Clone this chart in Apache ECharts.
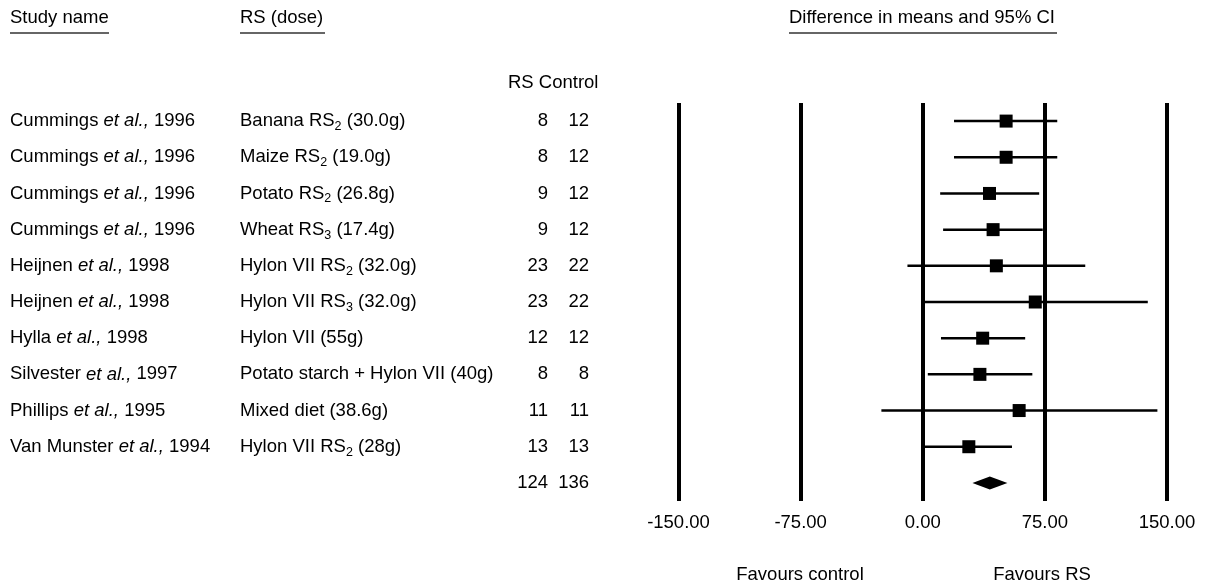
<!DOCTYPE html>
<html>
<head>
<meta charset="utf-8">
<script src="https://cdn.jsdelivr.net/npm/echarts@6/dist/echarts.min.js"></script>
<style>
  html, body { margin: 0; padding: 0; background: #fff; }
  #chart { width: 1205px; height: 585px; }
</style>
</head>
<body>
<div id="chart"></div>
<script>
// study rows
var authors = ['Cummings', 'Cummings', 'Cummings', 'Cummings', 'Heijnen', 'Heijnen', 'Hylla', 'Silvester', 'Phillips', 'Van Munster'];
var years = [1996, 1996, 1996, 1996, 1998, 1998, 1998, 1997, 1995, 1994];
var doseBase = ['Banana RS', 'Maize RS', 'Potato RS', 'Wheat RS', 'Hylon VII RS', 'Hylon VII RS', 'Hylon VII', 'Potato starch + Hylon VII', 'Mixed diet', 'Hylon VII RS'];
var doseSub = ['2', '2', '2', '3', '2', '3', '', '', '', '2'];
var doseAmount = ['30.0g', '19.0g', '26.8g', '17.4g', '32.0g', '32.0g', '55g', '40g', '38.6g', '28g'];
var nRS = [8, 8, 9, 9, 23, 23, 12, 8, 11, 13];
var nControl = [12, 12, 12, 12, 22, 22, 12, 8, 11, 13];
var totalRS = 124;
var totalControl = 136;

// difference in means and 95% CI
var means = [51.2, 51.2, 41.0, 43.2, 45.2, 69.1, 36.8, 35.1, 59.2, 28.3];
var lower = [19.2, 19.2, 10.7, 12.5, -9.4, 1.3, 11.2, 3.1, -25.4, 1.3];
var upper = [82.6, 82.6, 71.5, 73.7, 99.8, 138.2, 62.9, 67.3, 144.1, 54.8];
var pooled = [41.2, 30.5, 52.0]; // mean, lower, upper

var rowIds = authors.map(function (_, i) { return String(i); }).concat(['total']);

var FONT = 'Liberation Sans, Arial, sans-serif';
var FS = 18.5;
var textBase = { color: '#000', fontFamily: FONT, fontSize: FS };

function labelAxis(margin, align, formatter, rich) {
  return {
    type: 'category',
    data: rowIds,
    inverse: true,
    position: 'left',
    axisLine: { show: false },
    axisTick: { show: false },
    splitLine: { show: false },
    axisLabel: Object.assign({
      interval: 0,
      margin: margin,
      align: align,
      formatter: formatter,
      rich: rich || {}
    }, textBase)
  };
}

var subRich = {
  sub: { fontFamily: FONT, fontSize: 12.5, color: '#000', padding: [11, 0, 0, 0] },
  it: { fontFamily: FONT, fontSize: FS, color: '#000', fontStyle: 'italic' }
};

function header(text, x, y, align) {
  return { type: 'text', x: x, y: y, style: Object.assign({ text: text, align: align || 'left', verticalAlign: 'middle' }, textBase) };
}
function underline(x1, x2) {
  return { type: 'line', shape: { x1: x1, y1: 33, x2: x2, y2: 33 }, style: { stroke: '#333', lineWidth: 1.5 } };
}

var myChart = echarts.init(document.getElementById('chart'));

var option = {
  animation: false,
  backgroundColor: '#fff',
  grid: { left: 678.5, right: 38, top: 103, height: 398 },
  xAxis: {
    type: 'value',
    min: -150,
    max: 150,
    interval: 75,
    axisLine: { show: false },
    axisTick: { show: false },
    splitLine: { show: true, lineStyle: { color: '#000', width: 4 } },
    axisLabel: Object.assign({
      margin: 12,
      formatter: function (v) { return v.toFixed(2); }
    }, textBase)
  },
  yAxis: [
    { type: 'category', data: rowIds, inverse: true, show: false },
    labelAxis(668.5, 'left', function (v) {
      var i = +v;
      if (isNaN(i)) return '';
      return authors[i] + ' {it|et al.,} ' + years[i];
    }, subRich),
    labelAxis(438.5, 'left', function (v) {
      var i = +v;
      if (isNaN(i)) return '';
      var s = doseBase[i];
      if (doseSub[i]) s += '{sub|' + doseSub[i] + '}';
      return s + ' (' + doseAmount[i] + ')';
    }, subRich),
    labelAxis(130.5, 'right', function (v) {
      var i = +v;
      return isNaN(i) ? String(totalRS) : String(nRS[i]);
    }),
    labelAxis(89.5, 'right', function (v) {
      var i = +v;
      return isNaN(i) ? String(totalControl) : String(nControl[i]);
    })
  ],
  graphic: [
    header('Study name', 10, 18),
    underline(10, 109),
    header('RS (dose)', 240, 18),
    underline(240, 325),
    header('Difference in means and 95% CI', 789, 18),
    underline(789, 1057),
    header('RS Control', 508, 83),
    header('Favours control', 800, 575, 'center'),
    header('Favours RS', 1042, 575, 'center')
  ],
  series: [
    {
      type: 'custom',
      xAxisIndex: 0,
      yAxisIndex: 0,
      encode: { x: [0, 1, 2], y: 3 },
      data: means.map(function (m, i) { return [m, lower[i], upper[i], i]; }),
      renderItem: function (params, api) {
        var row = api.value(3);
        var p = api.coord([api.value(0), row]);
        var lo = api.coord([api.value(1), row]);
        var hi = api.coord([api.value(2), row]);
        var h = 6.5;
        return {
          type: 'group',
          children: [
            { type: 'line', shape: { x1: lo[0], y1: p[1], x2: hi[0], y2: p[1] }, style: { stroke: '#000', lineWidth: 2.5 } },
            { type: 'rect', shape: { x: p[0] - h, y: p[1] - h, width: 2 * h, height: 2 * h }, style: { fill: '#000' } }
          ]
        };
      }
    },
    {
      type: 'custom',
      xAxisIndex: 0,
      yAxisIndex: 0,
      encode: { x: [0, 1, 2], y: 3 },
      data: [[pooled[0], pooled[1], pooled[2], rowIds.length - 1]],
      renderItem: function (params, api) {
        var row = api.value(3);
        var p = api.coord([api.value(0), row]);
        var lo = api.coord([api.value(1), row]);
        var hi = api.coord([api.value(2), row]);
        var h = 6.5;
        return {
          type: 'polygon',
          shape: { points: [[lo[0], p[1]], [p[0], p[1] - h], [hi[0], p[1]], [p[0], p[1] + h]] },
          style: { fill: '#000' }
        };
      }
    }
  ]
};

myChart.setOption(option);
</script>
</body>
</html>
